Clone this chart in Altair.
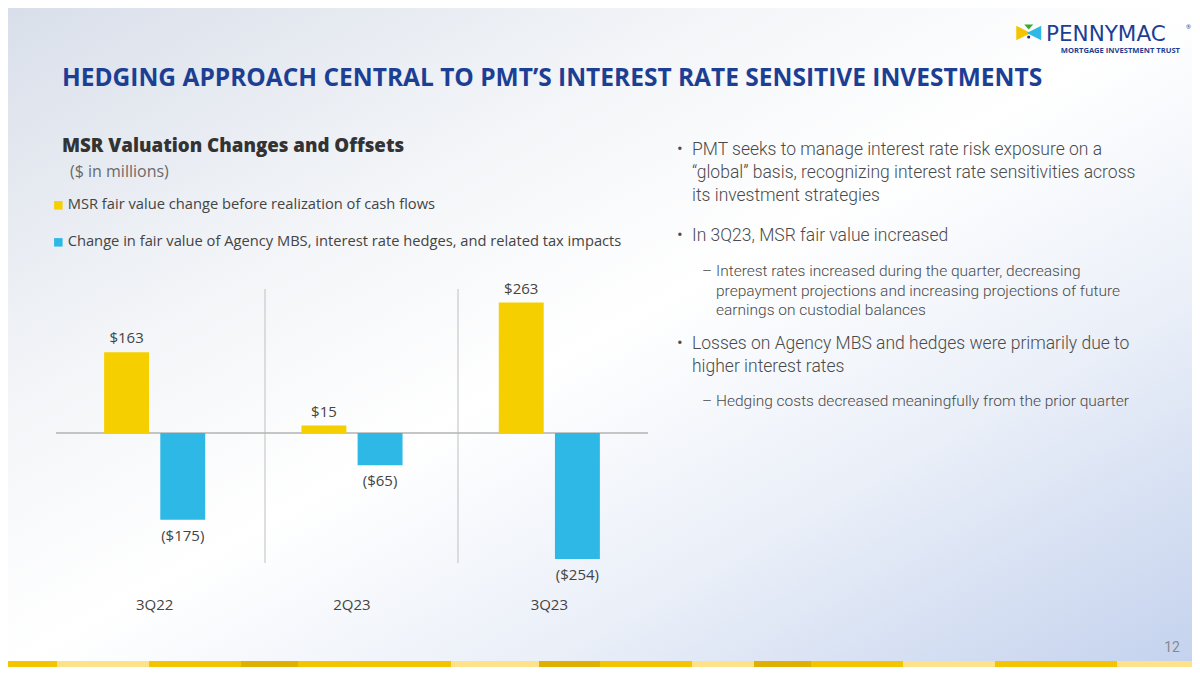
import altair as alt
import pandas as pd

# ---------------- data ----------------
quarters = ["3Q22", "2Q23", "3Q23"]
series = [
    "MSR fair value change before realization of cash flows",
    "Change in fair value of Agency MBS, interest rate hedges, and related tax impacts",
]
msr_values = [163, 15, 263]
hedge_values = [-175, -65, -254]
series_colors = ["#f5cf00", "#2db8e6"]

title_text = "HEDGING APPROACH CENTRAL TO PMT\u2019S INTEREST RATE SENSITIVE INVESTMENTS"
subtitle_text = "MSR Valuation Changes and Offsets"
units_text = "($ in millions)"
bullets = [
    "PMT seeks to manage interest rate risk exposure on a\n\u201cglobal\u201d basis, recognizing interest rate sensitivities across\nits investment strategies",
    "In 3Q23, MSR fair value increased",
    "Losses on Agency MBS and hedges were primarily due to\nhigher interest rates",
]
sub_bullets = [
    "Interest rates increased during the quarter, decreasing\nprepayment projections and increasing projections of future\nearnings on custodial balances",
    "Hedging costs decreased meaningfully from the prior quarter",
]
page_number = "12"

def fmt(v):
    return f"${v}" if v >= 0 else f"(${-v})"

rows = []
for q, m, h in zip(quarters, msr_values, hedge_values):
    rows.append({"quarter": q, "series": series[0], "value": m, "label": fmt(m)})
    rows.append({"quarter": q, "series": series[1], "value": h, "label": fmt(h)})
df = pd.DataFrame(rows)

W, H = 1184, 659
X_RANGE = [48, 640]
Y_DOMAIN = [-300, 300]
Y_RANGE = [573.8, 276.2]

xscale = alt.Scale(domain=quarters, range=X_RANGE, paddingInner=0, paddingOuter=0)
yscale = alt.Scale(domain=Y_DOMAIN, range=Y_RANGE, nice=False)
offscale = alt.Scale(domain=series, paddingInner=0.2, paddingOuter=0.857)

FONT_CHART = "Open Sans"
FONT_BODY = "Roboto"
NAVY = "#1c3f94"

def one():
    return alt.Data(values=[{"k": 1}])

# ---------------- background ----------------
bg = alt.Chart(one()).mark_rect(
    fill=alt.LinearGradient(
        gradient="linear",
        stops=[
            alt.GradientStop(offset=0, color="#d9dfea"),
            alt.GradientStop(offset=0.3, color="#f3f5f8"),
            alt.GradientStop(offset=0.5, color="#ffffff"),
            alt.GradientStop(offset=0.72, color="#eaeff8"),
            alt.GradientStop(offset=1, color="#c4d2ee"),
        ],
        x1=0, y1=0, x2=1, y2=1,
    )
).encode(x=alt.value(0), x2=alt.value(W), y=alt.value(0), y2=alt.value(H))

# ---------------- chart parts ----------------
separators = [
    alt.Chart(one()).mark_rule(color="#c9c9c9", strokeWidth=1.2).encode(
        x=alt.value(sx), y=alt.value(281), y2=alt.value(555))
    for sx in (257, 450)
]

zero_line = alt.Chart(one()).mark_rule(color="#b3b3b3", strokeWidth=1.5).encode(
    y=alt.value(425), x=alt.value(X_RANGE[0]), x2=alt.value(X_RANGE[1])
)

bars = alt.Chart(df).mark_bar().encode(
    x=alt.X("quarter:N", scale=xscale, axis=None),
    xOffset=alt.XOffset("series:N", scale=offscale),
    y=alt.Y("value:Q", scale=yscale, axis=None),
    color=alt.Color(
        "series:N",
        scale=alt.Scale(domain=series, range=series_colors),
        legend=alt.Legend(
            orient="none", legendX=43, legendY=190, direction="vertical", title=None,
            symbolType="square", symbolSize=72, symbolStrokeWidth=0, symbolOpacity=1,
            labelFont=FONT_CHART, labelFontSize=14.7, labelColor="#444444",
            labelLimit=900, rowPadding=21, labelOffset=2, padding=0,
        ),
    ),
)

pos_labels = alt.Chart(df).transform_filter("datum.value >= 0").mark_text(
    baseline="bottom", dy=-6, font=FONT_CHART, fontSize=15, color="#444444"
).encode(
    x=alt.X("quarter:N", scale=xscale, axis=None),
    xOffset=alt.XOffset("series:N", scale=offscale),
    y=alt.Y("value:Q", scale=yscale, axis=None),
    text="label:N",
)
neg_labels = alt.Chart(df).transform_filter("datum.value < 0").mark_text(
    baseline="top", dy=9, font=FONT_CHART, fontSize=15, color="#444444"
).encode(
    x=alt.X("quarter:N", scale=xscale, axis=None),
    xOffset=alt.XOffset("series:N", scale=offscale),
    y=alt.Y("value:Q", scale=yscale, axis=None),
    text="label:N",
)

cat_df = pd.DataFrame({"quarter": quarters})
cat_labels = alt.Chart(cat_df).mark_text(
    baseline="middle", font=FONT_CHART, fontSize=15, color="#444444"
).encode(
    x=alt.X("quarter:N", scale=xscale, axis=None),
    y=alt.value(597),
    text="quarter:N",
)

# ---------------- text helpers ----------------
def text_layer(txt, x, y, **kw):
    return alt.Chart(alt.Data(values=[{"t": txt}])).mark_text(**kw).encode(
        x=alt.value(x), y=alt.value(y), text="t:N"
    )

texts = [
    text_layer(title_text, 54, 71, align="left", baseline="middle", font=FONT_CHART,
               fontSize=24.5, fontWeight="bold", color=NAVY),
    text_layer(subtitle_text, 54, 138, align="left", baseline="middle", font=FONT_CHART,
               fontSize=18.7, fontWeight=800, color="#333333"),
    text_layer(units_text, 62, 164, align="left", baseline="middle", font=FONT_CHART,
               fontSize=16, color="#6a6a6a"),
    text_layer(page_number, 1172, 640, align="right", baseline="middle", font=FONT_BODY,
               fontSize=14, color="#8a8a8a"),
    text_layer("PENNYMAC", 1038, 32.5, align="left", baseline="alphabetic", font="DejaVu Sans",
               fontSize=21.5, color=NAVY),
    text_layer("MORTGAGE INVESTMENT TRUST", 1172, 44.5, align="right", baseline="alphabetic",
               font="Open Sans", fontSize=7.6, fontWeight="bold", color=NAVY),
    text_layer("\u00ae", 1178, 19, align="left", baseline="middle", font="Open Sans",
               fontSize=6, color=NAVY),
]

bullet_style = dict(align="left", baseline="middle", font=FONT_BODY, fontWeight=300,
                    color="#4a4a4a", lineBreak="\n")
bullet_pos = [(684, 142), (684, 228), (684, 336)]
for txt, (bx, by) in zip(bullets, bullet_pos):
    texts.append(text_layer(txt, bx, by, fontSize=17.5, lineHeight=23, **bullet_style))
    texts.append(text_layer("\u2022", 669, by, fontSize=17.5, **bullet_style))

sub_pos = [(708, 263), (708, 393)]
for txt, (sx, sy) in zip(sub_bullets, sub_pos):
    texts.append(text_layer(txt, sx, sy, fontSize=15.5, lineHeight=19.5, **bullet_style))
    texts.append(text_layer("\u2013", 694, sy, fontSize=15.5, **bullet_style))

# logo icon shapes
def shape_layer(path, x, y, size, color):
    return alt.Chart(one()).mark_point(shape=path, filled=True, size=size, color=color,
                                       opacity=1).encode(x=alt.value(x), y=alt.value(y))

icon = [
    shape_layer("M -1 -1 L 1 0 L -1 1 Z", 1015.5, 25, 210, "#f5c400"),
    shape_layer("M 1 -1 L -1 0 L 1 1 Z", 1026, 25, 210, "#2db8e6"),
    shape_layer("M -1 -1 L 1 -1 L 0 0.1 Z", 1020.7, 21, 80, "#3aa935"),
    shape_layer("circle", 1020.7, 29, 10, "#1c2f6e"),
]

# bottom decorative strip
strip = [
    (0, 57, "#f5c400"), (57, 149, "#fde28a"), (149, 241, "#f5c400"), (241, 298, "#e0b000"),
    (298, 451, "#f5c400"), (451, 539, "#fde28a"), (539, 600, "#e0b000"), (600, 692, "#f5c400"),
    (692, 754, "#fde28a"), (754, 811, "#e0b000"), (811, 903, "#f5c400"), (903, 995, "#fde28a"),
    (995, 1117, "#f5c400"), (1117, 1200, "#fde28a"),
]
strip_layers = [
    alt.Chart(one()).mark_rect(color=c).encode(
        x=alt.value(max(a - 8, 0)), x2=alt.value(min(b - 8, W)),
        y=alt.value(H - 6), y2=alt.value(H))
    for a, b, c in strip
]

chart = alt.layer(
    bg, *strip_layers, *separators, zero_line, bars, pos_labels, neg_labels, cat_labels,
    *texts, *icon,
).properties(
    width=W, height=H, padding=0, autosize=alt.AutoSizeParams(type="none")
).configure_view(stroke=None).configure(background="#ffffff")

chart.save("out.html", embed_options={"renderer": "svg", "actions": False})
